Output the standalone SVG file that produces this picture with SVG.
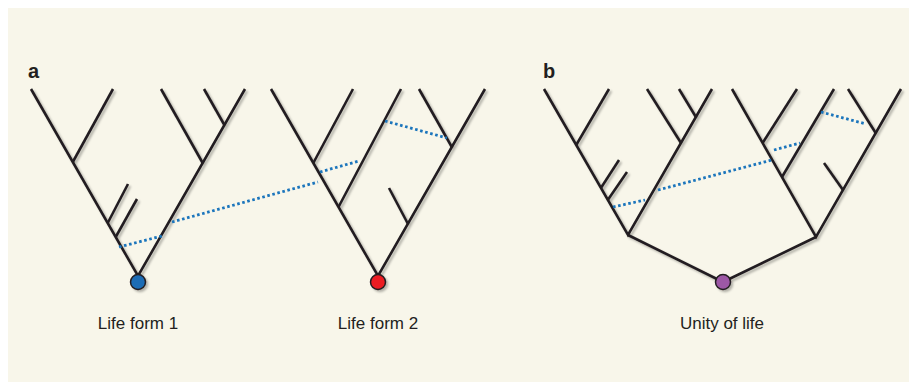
<svg xmlns="http://www.w3.org/2000/svg" width="909" height="382" viewBox="0 0 909 382">
  <defs>
    <filter id="shadow" x="-10%" y="-10%" width="120%" height="120%">
      <feDropShadow dx="2" dy="2" stdDeviation="1.3" flood-color="#000" flood-opacity="0.28"/>
    </filter>
  </defs>
  <style>
    .br { fill: none; stroke: #231f20; stroke-width: 2.6; stroke-linecap: butt; stroke-linejoin: miter; }
    .hgt { fill: none; stroke: #1b75bc; stroke-width: 2.8; stroke-dasharray: 2.6 2.6; }
    .root { stroke: #231f20; stroke-width: 1.5; }
    .panel { font-family: "Liberation Sans", Arial, sans-serif; font-weight: bold; font-size: 20px; fill: #231f20; }
    .lbl { font-family: "Liberation Sans", Arial, sans-serif; font-size: 17px; fill: #231f20; text-anchor: middle; }
  </style>
  <rect x="8" y="8" width="901" height="374" fill="#f8f6ea"/>

  <text class="panel" x="28" y="78">a</text>
  <text class="panel" x="543" y="78">b</text>

  <g id="life-form-1" filter="url(#shadow)">
    <polyline class="br" points="31,89 138,276 245,89"/>
    <line class="br" x1="72.8" y1="162" x2="113" y2="89"/>
    <line class="br" x1="107.7" y1="223" x2="128" y2="184"/>
    <line class="br" x1="115.7" y1="237" x2="137" y2="199"/>
    <line class="br" x1="202.7" y1="163" x2="161" y2="89"/>
    <line class="br" x1="224.4" y1="125" x2="204" y2="89"/>
    <circle class="root" cx="138" cy="282" r="7.5" fill="#1c6cb5"/>
  </g>

  <g id="life-form-2" filter="url(#shadow)">
    <polyline class="br" points="271,89 378,276 485,89"/>
    <line class="br" x1="313.3" y1="163" x2="353" y2="89"/>
    <line class="br" x1="338.5" y1="207" x2="401" y2="89"/>
    <line class="br" x1="451.8" y1="147" x2="419" y2="89"/>
    <line class="br" x1="408" y1="224" x2="389" y2="188"/>
    <circle class="root" cx="378" cy="282" r="7.5" fill="#ec1c24"/>
  </g>

  <g id="unity-of-life" filter="url(#shadow)">
    <polyline class="br" points="544,89 628,235 712,89"/>
    <polyline class="br" points="732,89 816,237 901,89"/>
    <polyline class="br" points="628,235 723,282 816,237" stroke-linejoin="round"/>
    <line class="br" x1="576.2" y1="145" x2="609" y2="89"/>
    <line class="br" x1="600.9" y1="188" x2="619" y2="160"/>
    <line class="br" x1="607.8" y1="200" x2="627" y2="172"/>
    <line class="br" x1="681" y1="143" x2="647" y2="89"/>
    <line class="br" x1="695.9" y1="117" x2="679" y2="89"/>
    <line class="br" x1="762.6" y1="143" x2="797" y2="89"/>
    <line class="br" x1="782" y1="177" x2="834" y2="89"/>
    <line class="br" x1="875.7" y1="133" x2="848" y2="89"/>
    <line class="br" x1="843" y1="190" x2="824" y2="163"/>
    <circle class="root" cx="723" cy="282" r="7.5" fill="#9d59a6"/>
  </g>

  <g id="connectors">
    <line class="hgt" x1="119" y1="247" x2="162" y2="236"/>
    <line class="hgt" x1="172" y1="222" x2="318" y2="182"/>
    <line class="hgt" x1="320" y1="172" x2="359" y2="161"/>
    <line class="hgt" x1="385" y1="121" x2="447" y2="138"/>
    <line class="hgt" x1="613" y1="207" x2="645" y2="200"/>
    <line class="hgt" x1="658" y1="190" x2="772" y2="160"/>
    <line class="hgt" x1="774" y1="150" x2="800" y2="143"/>
    <line class="hgt" x1="821" y1="112" x2="866" y2="124"/>
  </g>

  <g id="labels">
    <text class="lbl" x="138" y="329">Life form 1</text>
    <text class="lbl" x="378" y="329">Life form 2</text>
    <text class="lbl" x="722" y="329">Unity of life</text>
  </g>
</svg>
